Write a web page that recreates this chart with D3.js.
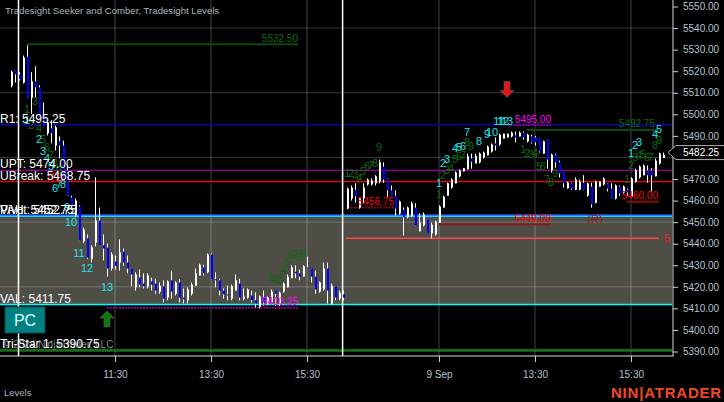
<!DOCTYPE html>
<html><head><meta charset="utf-8">
<script src="https://cdn.jsdelivr.net/npm/d3@7"></script>
<style>html,body{margin:0;padding:0;background:#000;overflow:hidden}svg{display:block}text{font-family:"Liberation Sans",Arial,sans-serif}</style>
</head><body><div id="c"></div>
<script>
const highs=[5520.25,5520.25,5519.5,5527.25,5532,5519.5,5522.25,5513.5,5505.5,5497.25,5497.25,5494.75,5489.75,5487.75,5476.25,5462.25,5461,5457.75,5447.5,5444.25,5439.25,5470.75,5456.75,5444.25,5440,5436,5434.5,5442,5437.75,5434.5,5428.5,5426.75,5428,5426.25,5426.25,5424.25,5423.75,5422,5423,5423,5427.5,5422.5,5423.5,5419.25,5419.75,5422,5428.5,5430.75,5430.25,5435.5,5435.5,5426.75,5423.75,5419.25,5420.5,5421,5425.75,5423.75,5419.25,5419.25,5418.25,5417.5,5416,5418.25,5415.5,5418.75,5418.25,5417.75,5422,5425.75,5430,5430,5428,5430,5434,5428.5,5427.5,5422.5,5431.25,5431.25,5421.5,5420.25,5418.25,5418.25,
5466,5467,5468,5461.5,5468,5470.25,5470.25,5471.75,5479,5477.75,5470.25,5467,5464.75,5460,5456.75,5457.25,5459.5,5458.75,5454,5454.5,5451.25,5449.75,5450.75,5457.75,5462.25,5468.25,5470.25,5473.5,5474.5,5475,5481.75,5481.75,5481.75,5482.25,5482.75,5485.5,5486.5,5489.25,5491,5491,5491,5492,5492,5492,5492,5491,5490.5,5490,5488.75,5487.75,5488.25,5481.75,5481.75,5478.5,5473,5468.75,5468.25,5470.75,5469.75,5471.75,5468.25,5468.25,5469.25,5468.75,5470.75,5468,5468,5467.5,5467,5467,5465.5,5470.75,5474.75,5476.25,5476.75,5476.25,5475,5479.5,5482.25,5482.25];
const lows=[5512.5,5514.75,5515.75,5514.25,5507.75,5500.25,5507.75,5498,5494.75,5490.25,5486.5,5483.25,5479.5,5470.75,5462.25,5455.75,5452.25,5441.5,5440.25,5433,5431.25,5438.75,5439.25,5432.25,5424.75,5427.5,5428,5427.5,5429.75,5426.25,5420.25,5418.25,5419.75,5419.25,5419.25,5418.25,5416.75,5416.75,5412.75,5413.75,5414.5,5416,5412.75,5412.25,5412.25,5416,5420.5,5425.25,5425.25,5426.25,5423.5,5419.75,5416,5414.5,5413.75,5413.75,5418.25,5413.75,5413.75,5414.5,5412.75,5410.5,5410,5411.25,5411.75,5412.25,5411.25,5411.25,5417.25,5419.75,5424,5424,5423,5424.75,5428.5,5422,5416.75,5417.25,5418.25,5412.25,5411.75,5413.75,5413.75,5413.75,
5456,5460,5459,5456.25,5458.75,5467,5467,5467,5468,5468.25,5461.75,5462.25,5453,5453.5,5443.75,5451.75,5452.25,5448.5,5445.75,5448,5444.75,5442.5,5443.75,5449.75,5456.75,5462.25,5465.5,5468,5470.75,5473.5,5474.5,5474.75,5477.25,5477.25,5479.5,5481,5482.25,5483.25,5485.5,5488.75,5489.25,5489.25,5487,5489.75,5488.25,5487,5486.5,5485.5,5482.25,5481.75,5474.75,5473,5475.25,5470.75,5466,5465.5,5465,5464.75,5464.75,5464.75,5461.75,5456.75,5458.75,5466.5,5467,5464.25,5461,5460.5,5462.25,5463.25,5462.25,5461.75,5468.25,5470.25,5471.75,5468.25,5464.25,5471.25,5476.75,5479.75];
const opens=[5513.25,5520.25,5518.5,5514.75,5526.75,5507.75,5515.25,5512.5,5499.5,5491.25,5493.5,5485.5,5487.5,5485.5,5474,5461.5,5453.25,5457.25,5441,5442.5,5433,5440.5,5450.75,5439.25,5438.25,5428.5,5431.75,5431.25,5436.25,5431.25,5428.5,5419.75,5424.25,5421.5,5420.25,5422.5,5421.5,5417.75,5420.25,5415,5423,5416.75,5422,5415,5413.75,5416.75,5420.5,5425.25,5429,5426.75,5435,5423.5,5423,5418.25,5416.5,5414.5,5418.25,5421.5,5414.5,5415,5416,5413.75,5410.75,5415,5412.25,5412.75,5418.25,5412.25,5417.75,5419.75,5424,5427,5426.25,5424.75,5429,5428.5,5424.75,5417.75,5418.75,5428.5,5412.25,5420.25,5414.5,5416.5,
5456.25,5461,5465,5456.75,5461,5467.5,5467.5,5468,5468.75,5475.75,5470.25,5464.75,5462.25,5454,5455.75,5452.25,5452.75,5456.75,5445.75,5448.5,5451.25,5444.75,5444.25,5449.75,5456.75,5462.25,5466,5468,5471.25,5473.5,5474.5,5479.5,5477.25,5477.75,5480,5481,5482.75,5486.5,5486,5488.75,5489.25,5489.75,5490.25,5489.75,5491.5,5487.5,5489.75,5489.25,5488.75,5481.75,5488.25,5474,5481.25,5477.75,5473,5465.75,5468,5465,5465,5468.25,5462.25,5466.5,5459,5466.5,5467.5,5468,5465.5,5461,5466.5,5463.75,5465,5461.75,5468.75,5470.75,5471.75,5474,5474,5471.25,5477.25,5479.75];
const closes=[5519.75,5518.5,5516.25,5526.25,5507.75,5515.25,5512.5,5498,5494.75,5496.25,5491.25,5494,5485.5,5470.75,5462.25,5456.75,5460,5441.5,5446.5,5433.5,5438.25,5450.75,5439.25,5437.75,5428.5,5435,5429.75,5436,5431.25,5428.5,5425.75,5425.75,5421,5420.25,5425.25,5421,5418.25,5420.5,5414.5,5422.5,5417.75,5422,5415,5414.25,5418.75,5421,5426.25,5430.25,5426.25,5435,5423.5,5423,5418.25,5416.5,5416,5420.25,5423,5415,5415.5,5418.75,5413.75,5412.25,5415.5,5412.75,5415,5417.75,5416.75,5417.25,5421.5,5424.75,5429,5426.25,5424.75,5429.5,5428.5,5424.75,5418.75,5422,5428.5,5418.25,5420.5,5415,5417.25,5415,
5465.5,5466,5462,5461,5466,5469.75,5469.25,5471.25,5477.75,5469.75,5464.75,5462.25,5456.25,5459.5,5452.25,5456.75,5458.75,5448.5,5449.75,5453.5,5444.75,5448.75,5450.25,5457.25,5461.75,5468,5469.75,5473,5474,5475,5480.5,5478,5480.75,5481.75,5482.25,5485,5486,5485.5,5490.5,5491,5491,5491.5,5489.25,5491.5,5489.25,5490.5,5487,5487,5482.75,5487.5,5479,5481.25,5477.75,5472.5,5468,5468.25,5465.5,5469.75,5468.75,5464.75,5468,5458.25,5468.75,5468.75,5470.25,5465.5,5461,5467,5463.25,5466.5,5463.75,5470.25,5474,5475.75,5476.25,5471.75,5471.75,5478.5,5481.75,5481.25];

const priceTicks=[5550,5540,5530,5520,5510,5500,5490,5470,5460,5450,5440,5430,5420,5410,5400,5390];
const gridPrices=[5540,5510,5480,5450,5420,5390];
const timeIdx=[26,50,74,107,131,155];
const timeLabels=["11:30","13:30","15:30","9 Sep","13:30","15:30"];
const sessionIdx=[1.875,82.9];
const lastPrice=5482.25;

const levelNames=["R1","UPT","UBreak","VAH","Pivot","VAL","Tri-Star 1"];
const levelValues=[5495.25,5474,5468.75,5452.75,5452.75,5411.75,5390.75];
const levelLineValues=[5495.25,5474,5468.75,5453.25,5452.75,5411.75,5390.75];
const levelColors=["#0000c8","#9a009a","#ff0000","#1e4dff","#20d0ff","#00ffff","#007a00"];

const segStart=[4,24,84,107,83.75,124,129,154];
const segEnd=[71.75,71.75,95.75,135,162,135,161,162];
const segPrices=[5532.5,5410.25,5456.75,5449,5442.5,5495,5492.75,5459.5];
const segLabels=["5532.50","5410.25","5456.75","5449.00","","5495.00","5492.75","5460.00"];
const segColors=["#0a4a0a","#8a008a","#7a0c0c","#8c1c1c","#ff4545","#8a008a","#0a4a0a","#8c0c0c"];
const segTextColors=["#0e6a0e","#ff00ff","#ff0000","#ff0000","#ff0000","#ff00ff","#0e6a0e","#ff0000"];
const segDash=["","2,1","2,1","","","2,1","",""];

const greenText="123456789123456789123456789123456789123456789123456789".split("");
const greenIdx=[4,5,6,7,8,9,10,11,12,65,66,67,68,69,70,71,72,73,84,85,86,87,88,89,90,91,92,107,108,109,110,111,112,113,114,115,128,129,130,131,132,133,134,135,136,154,155,156,157,158,159,160,161,162];
const greenPrice=[5502.5,5495,5506.25,5493.75,5488.5,5484.75,5481,5477.5,5474.25,5424.5,5423.5,5423.5,5427.75,5431.5,5434.75,5435.25,5433.75,5435.75,5472.75,5472.75,5472.25,5470.5,5473.75,5476,5476.5,5477.5,5484.75,5463,5471.75,5474.25,5475,5479.25,5480.75,5481,5487,5485.25,5484,5482,5481.5,5482,5476,5476,5470,5468.5,5472.75,5470,5476.5,5480.25,5481,5481.5,5480.25,5480.25,5485.75,5488];

const cyanText=["1","2","3","4","5","6","7","8","9","10","11","12","13","1","2","3","4","5","6","7","8","9","10","11","12","13","1","2","3","4","5"];
const cyanIdx=[4,7,8,9,10,11,12,13,14,15,17,19,24,107,108,109,111,112,113,114,117,119,120.25,122,123,124,155,156,157,161,162];
const cyanPrice=[5497.25,5488.5,5483,5479.75,5476,5465.75,5467.75,5467.75,5457,5450,5435.75,5428.75,5420,5468,5477.5,5479.25,5484.25,5484.75,5485.25,5491.75,5487.5,5490.75,5491.75,5496.75,5496.75,5496.75,5482,5485.75,5487.25,5490.75,5493.25];

const W=724,H=402,plotR=673,plotB=356;
const x=d3.scaleLinear().domain([0,163]).range([11,663]);
const y=d3.scaleLinear().domain([5390,5550]).range([351.5,6.5]);
const svg=d3.select("#c").append("svg").attr("width",W).attr("height",H).style("background","#000");

svg.append("rect").attr("x",0).attr("width",plotR-1).attr("y",y(5453)).attr("height",y(5411.75)-y(5453)).attr("fill","#4e4d46");

svg.append("g").selectAll("line").data(gridPrices).join("line").attr("x1",0).attr("x2",plotR).attr("y1",d=>y(d)).attr("y2",d=>y(d)).attr("stroke","#fff").attr("stroke-opacity",.22).attr("stroke-width",1);
svg.append("g").selectAll("line").data(timeIdx).join("line").attr("x1",d=>x(d)).attr("x2",d=>x(d)).attr("y1",0).attr("y2",plotB).attr("stroke","#fff").attr("stroke-opacity",.25).attr("stroke-width",1);

svg.append("g").selectAll("line").data(levelLineValues).join("line").attr("x1",0).attr("x2",plotR-1).attr("y1",d=>y(d)).attr("y2",d=>y(d)).attr("stroke",(d,i)=>levelColors[i]).attr("stroke-width",(d,i)=>i==6?2:(i==3||i==4||i==5?1.5:1.2));

svg.append("g").selectAll("line").data(sessionIdx).join("line").attr("x1",d=>x(d)).attr("x2",d=>x(d)).attr("y1",0).attr("y2",plotB).attr("stroke","#fff").attr("stroke-width",1.5);

svg.append("g").selectAll("line").data(segPrices).join("line").attr("x1",(d,i)=>x(segStart[i])).attr("x2",(d,i)=>x(segEnd[i])).attr("y1",d=>y(d)).attr("y2",d=>y(d)).attr("stroke",(d,i)=>segColors[i]).attr("stroke-width",(d,i)=>i==4?1.5:2).attr("stroke-dasharray",(d,i)=>segDash[i]);

const idx=d3.range(highs.length);
const isUp=i=>closes[i]>=opens[i];
const bars=svg.append("g");
bars.selectAll("line").data(idx).join("line").attr("x1",i=>x(i)+.5).attr("x2",i=>x(i)+.5).attr("y1",i=>y(highs[i])).attr("y2",i=>y(lows[i])).attr("stroke","#fff").attr("stroke-width",1);
bars.selectAll("rect").data(idx).join("rect").attr("x",i=>x(i)).attr("width",2).attr("y",i=>y(Math.max(opens[i],closes[i]))).attr("height",i=>Math.max(1,Math.abs(y(opens[i])-y(closes[i])))).attr("fill",i=>isUp(i)?"#fff":"#0000ff");

svg.append("g").selectAll("text").data(greenText).join("text").text(d=>d).attr("x",(d,i)=>x(greenIdx[i])).attr("y",(d,i)=>y(greenPrice[i])).attr("dy",".35em").attr("text-anchor","middle").attr("font-size",11).attr("fill","#0e6a0e");
svg.append("g").selectAll("text").data(cyanText).join("text").text(d=>d).attr("x",(d,i)=>x(cyanIdx[i])).attr("y",(d,i)=>y(cyanPrice[i])).attr("dy",".35em").attr("text-anchor","middle").attr("font-size",11).attr("fill","#19e6e6");

svg.append("g").selectAll("text").data(segLabels).join("text").text(d=>d).attr("x",(d,i)=>x(segEnd[i])+(i==7?-1:0)).attr("y",(d,i)=>y(segPrices[i])-2.5).attr("text-anchor","end").attr("font-size",10).attr("fill",(d,i)=>segTextColors[i]);
svg.append("text").text("5").attr("x",667).attr("y",y(5442.5)+4).attr("text-anchor","middle").attr("font-size",11).attr("fill","#ff2020");
svg.append("text").text("(R)").attr("x",x(146)).attr("y",223).attr("text-anchor","middle").attr("font-size",11).attr("fill","#a01414");
svg.append("text").text("(R)").attr("x",x(11)).attr("y",181).attr("text-anchor","middle").attr("font-size",11).attr("fill","#e01414");

const arrow=d3.path();arrow.moveTo(-7,7);arrow.lineTo(0,0);arrow.lineTo(7,7);arrow.lineTo(3,7);arrow.lineTo(3,16);arrow.lineTo(-3,16);arrow.lineTo(-3,7);arrow.closePath();
svg.append("path").attr("d",arrow.toString()).attr("transform",`translate(${x(24)},311)`).attr("fill","#0c7a0c").attr("stroke","#555").attr("stroke-width",.7);
svg.append("path").attr("d",arrow.toString()).attr("transform",`translate(${x(124)},97.5) scale(1,-1)`).attr("fill","#e01818").attr("stroke","#555").attr("stroke-width",.7);

svg.append("text").text("© 2024 NinjaTrader, LLC").attr("x",3).attr("y",348).attr("font-size",10).attr("fill","#7d8a90");
svg.append("g").selectAll("text").data(levelNames).join("text").text((d,i)=>`${d}: ${levelValues[i].toFixed(2)}`).attr("x",0).attr("y",(d,i)=>y(levelValues[i])-2).attr("font-size",12).attr("fill","#fff");

svg.append("rect").attr("x",5).attr("y",307).attr("width",40).attr("height",26).attr("fill","#008080").attr("stroke","#0a4f4f").attr("stroke-width",1);
svg.append("text").text("PC").attr("x",25).attr("y",326).attr("text-anchor","middle").attr("font-size",16).attr("fill","#dff");

const yAxis=d3.axisRight(y).tickValues(priceTicks).tickSize(5).tickPadding(5).tickFormat(d3.format(".2f"));
const gy=svg.append("g").attr("transform",`translate(${plotR},0)`).call(yAxis);
const xAxis=d3.axisBottom(x).tickValues(timeIdx).tickSize(6).tickPadding(9).tickFormat((d,i)=>timeLabels[i]);
const gx=svg.append("g").attr("transform",`translate(0,${plotB})`).call(xAxis);
[gx,gy].forEach(g=>{g.select(".domain").remove();g.selectAll("line").attr("stroke","#cfcfcf");g.selectAll("text").attr("fill","#b4c0cc").attr("font-size",10).attr("font-family","Liberation Sans");});
svg.append("line").attr("x1",0).attr("x2",plotR+.5).attr("y1",plotB).attr("y2",plotB).attr("stroke","#d8d8d8").attr("stroke-width",1);
svg.append("line").attr("x1",plotR).attr("x2",plotR).attr("y1",0).attr("y2",plotB).attr("stroke","#d8d8d8").attr("stroke-width",1);

const ly=y(lastPrice);
svg.append("path").attr("d",d3.line()([[724,ly-7],[676,ly-7],[668,ly],[676,ly+7],[724,ly+7]])).attr("fill","#000").attr("stroke","#b0b0b0").attr("stroke-width",1);
svg.append("text").text(lastPrice.toFixed(2)).attr("x",683).attr("y",ly+3.5).attr("font-size",10).attr("fill","#fff");

svg.append("text").text("Tradesight Seeker and Comber, Tradesight Levels").attr("x",5).attr("y",14).attr("font-size",9.65).attr("fill","#a8b4bc");
svg.append("text").text("Levels").attr("x",4).attr("y",396).attr("font-size",9.5).attr("fill","#a8b4bc");
svg.append("text").text("NIN|ATRADER").attr("x",722).attr("y",398).attr("text-anchor","end").attr("font-size",15).attr("font-weight","bold").attr("letter-spacing",".8").attr("fill","#f0482a");
</script></body></html>
